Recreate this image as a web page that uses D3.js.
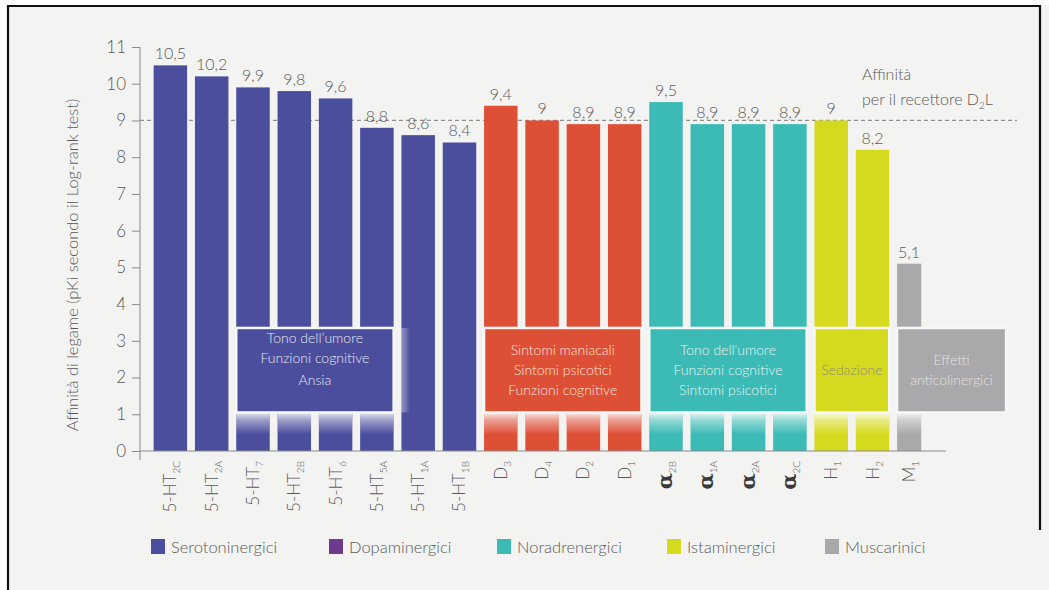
<!DOCTYPE html>
<html>
<head>
<meta charset="utf-8">
<script src="https://cdn.jsdelivr.net/npm/d3@7"></script>
<style>
  body { margin: 0; background: #ffffff; }
  svg text { font-family: Lato, "Open Sans", sans-serif; font-weight: 300; }
</style>
</head>
<body>
<svg id="chart" width="1049" height="590"></svg>
<script>
// Receptor binding affinities (pKi), one bar per receptor
const categories = ["5-HT2C","5-HT2A","5-HT7","5-HT2B","5-HT6","5-HT5A","5-HT1A","5-HT1B",
                    "D3","D4","D2","D1","α2B","α1A","α2A","α2C","H1","H2","M1"];
const labelMain = ["5-HT","5-HT","5-HT","5-HT","5-HT","5-HT","5-HT","5-HT",
                   "D","D","D","D","α","α","α","α","H","H","M"];
const labelSub  = ["2C","2A","7","2B","6","5A","1A","1B",
                   "3","4","2","1","2B","1A","2A","2C","1","2","1"];
const values = [10.5, 10.2, 9.9, 9.8, 9.6, 8.8, 8.6, 8.4,
                9.4, 9, 8.9, 8.9, 9.5, 8.9, 8.9, 8.9, 9, 8.2, 5.1];
const receptorFamily = ["sero","sero","sero","sero","sero","sero","sero","sero",
                        "dopa","dopa","dopa","dopa","nora","nora","nora","nora","ista","ista","musc"];

const families = ["sero","dopa","nora","ista","musc"];
const familyNames = ["Serotoninergici","Dopaminergici","Noradrenergici","Istaminergici","Muscarinici"];

// Clinical effects associated with each receptor block
const effectFrom  = ["5-HT7","D3","α2B","H1","M1"];
const effectTo    = ["5-HT5A","D1","α2C","H2","M1"];
const effectText  = [
  ["Tono dell\u2019umore","Funzioni cognitive","Ansia"],
  ["Sintomi maniacali","Sintomi psicotici","Funzioni cognitive"],
  ["Tono dell'umore","Funzioni cognitive","Sintomi psicotici"],
  ["Sedazione"],
  ["Effetti","anticolinergici"]
];
const effectFamily = ["sero","dopa","nora","ista","musc"];

const d2lAffinity = 9;
const yTicks = d3.range(0, 12);

// ---- styles ----
const barColor = { sero: "#4a4e9d", dopa: "#dd5036", nora: "#3cbab5", ista: "#d6da1e", musc: "#a9a8aa" };
const legendColor = { sero: "#4a4e9d", dopa: "#6e3a8e", nora: "#3cbab5", ista: "#d6da1e", musc: "#a9a8aa" };
const boxTextColor = { sero: "#e6e7f2", dopa: "#f6e2dc", nora: "#e4f5f4", ista: "#8d8d70", musc: "#e2e2e2" };
const textColor = "#5a5a5a";

const svg = d3.select("#chart");

// paper background and frame
svg.append("rect").attr("x", 7).attr("y", 5).attr("width", 1042).attr("height", 585).attr("fill", "#f3f3f1");
svg.append("path").attr("d", "M8,590 V6 H1040 V530").attr("fill", "none").attr("stroke", "#111").attr("stroke-width", 2.2);

const y = d3.scaleLinear().domain([0, 11]).range([451, 47]);
const x = d3.scaleBand().domain(categories).range([149.5, 934.7]).paddingInner(0.189).paddingOuter(0.1);

const barWidth = (i) => receptorFamily[i] === "musc" ? x.bandwidth() * 0.72 : x.bandwidth();

// gradients: fade under the effect boxes and side glow
const defs = svg.append("defs");
const fade = defs.append("linearGradient").attr("id", "fadeDown").attr("x1", 0).attr("y1", 0).attr("x2", 0).attr("y2", 1);
fade.append("stop").attr("offset", 0).attr("stop-color", "#fff").attr("stop-opacity", 0.88);
fade.append("stop").attr("offset", 0.35).attr("stop-color", "#fff").attr("stop-opacity", 0.45);
fade.append("stop").attr("offset", 1).attr("stop-color", "#fff").attr("stop-opacity", 0);
const glow = defs.append("linearGradient").attr("id", "glowRight").attr("x1", 0).attr("y1", 0).attr("x2", 1).attr("y2", 0);
glow.append("stop").attr("offset", 0).attr("stop-color", "#fff").attr("stop-opacity", 0.4);
glow.append("stop").attr("offset", 1).attr("stop-color", "#fff").attr("stop-opacity", 0);

// dashed reference line for D2L affinity
svg.append("line")
  .attr("x1", 140).attr("x2", 1017)
  .attr("y1", y(d2lAffinity)).attr("y2", y(d2lAffinity))
  .attr("stroke", "#8f8f8f").attr("stroke-width", 1.2).attr("stroke-dasharray", "4,3");

// bars
const bars = svg.append("g");
categories.forEach((c, i) => {
  bars.append("rect")
    .attr("x", x(c)).attr("y", y(values[i]))
    .attr("width", barWidth(i)).attr("height", y(0) - y(values[i]))
    .attr("fill", barColor[receptorFamily[i]]);
});

// value labels
svg.append("g").selectAll("text").data(categories).join("text")
  .attr("x", (c, i) => x(c) + barWidth(i) / 2)
  .attr("y", (c, i) => y(values[i]) - 6)
  .attr("text-anchor", "middle")
  .attr("font-size", 16)
  .attr("fill", textColor)
  .text((c, i) => String(values[i]).replace(".", ","));

// effect boxes
const boxTop = y(3.35), boxBottom = y(1.05);
const boxes = svg.append("g");
effectFrom.forEach((from, k) => {
  const i0 = categories.indexOf(from), i1 = categories.indexOf(effectTo[k]);
  const fam = effectFamily[k];
  const x0 = x(from);
  let x1 = x(effectTo[k]) + barWidth(i1);
  if (fam === "musc") x1 = x0 + 109;

  // fading strip below the box on each covered bar
  for (let i = i0; i <= i1; i++) {
    boxes.append("rect")
      .attr("x", x(categories[i])).attr("y", boxBottom)
      .attr("width", barWidth(i)).attr("height", 22)
      .attr("fill", "url(#fadeDown)");
  }
  if (fam === "sero") {
    const nx = x(categories[i1 + 1]);
    boxes.append("rect").attr("x", nx).attr("y", boxTop)
      .attr("width", 9).attr("height", boxBottom - boxTop)
      .attr("fill", "url(#glowRight)");
  }
  boxes.append("rect")
    .attr("x", x0).attr("y", boxTop)
    .attr("width", x1 - x0).attr("height", boxBottom - boxTop)
    .attr("fill", barColor[fam])
    .attr("stroke", "#f7f7f7").attr("stroke-width", 2.5);

  const lines = effectText[k];
  const cx = (x0 + x1) / 2;
  const lineGap = 20;
  const midY = (boxTop + boxBottom) / 2;
  const t = boxes.append("text")
    .attr("text-anchor", "middle")
    .attr("font-size", 14)
    .attr("fill", boxTextColor[fam]);
  lines.forEach((ln, j) => {
    let ty = midY + (j - (lines.length - 1) / 2) * lineGap + 5;
    if (fam === "sero") ty = boxTop + 15 + j * 20 + (j === 2 ? 2 : 0);
    t.append("tspan").attr("x", cx).attr("y", ty).text(ln);
  });
});

// y axis
const yAxis = svg.append("g")
  .attr("transform", "translate(140,0)")
  .call(d3.axisLeft(y).tickValues(yTicks).tickSize(8).tickSizeOuter(0).tickPadding(6));
yAxis.select(".domain").attr("stroke", "#8a8a8a").attr("d", `M0,${y(11)}V${y(0) + 9}`);
yAxis.selectAll(".tick line").attr("stroke", "#8a8a8a");
yAxis.selectAll(".tick text")
  .attr("font-size", 17).attr("fill", textColor)
  .style("font-family", "Lato, sans-serif").style("font-weight", 300);

// x baseline
svg.append("line").attr("x1", 140).attr("x2", 946).attr("y1", y(0)).attr("y2", y(0))
  .attr("stroke", "#8a8a8a").attr("stroke-width", 1);

// y axis title
svg.append("text")
  .attr("transform", `translate(78,${(y(0) + y(11)) / 2 + 16}) rotate(-90)`)
  .attr("text-anchor", "middle")
  .attr("font-size", 16.5)
  .attr("fill", textColor)
  .text("Affinità di legame (pKi secondo il Log-rank test)");

// rotated category labels with subscripts
const xl = svg.append("g");
categories.forEach((c, i) => {
  const cx = x(c) + barWidth(i) / 2 + 6;
  const t = xl.append("text")
    .attr("transform", `translate(${cx},461) rotate(-90)`)
    .attr("text-anchor", "end")
    .attr("font-size", 17)
    .attr("fill", textColor);
  const isGreek = labelMain[i] === "α";
  t.append("tspan").text(labelMain[i])
    .attr("fill", isGreek ? "#3a3a3a" : textColor)
    .attr("font-size", isGreek ? 21 : 17)
    .style("font-family", isGreek ? "'DejaVu Serif', serif" : null)
    .style("font-weight", isGreek ? 700 : 300);
  t.append("tspan").text(labelSub[i])
    .attr("font-size", 10).attr("dy", 4);
});

// D2L annotation
const ann = svg.append("text").attr("font-size", 16).attr("fill", textColor);
ann.append("tspan").attr("x", 862).attr("y", 80).text("Affinità");
const l2 = ann.append("tspan").attr("x", 862).attr("y", 105);
l2.append("tspan").text("per il recettore D");
l2.append("tspan").text("2").attr("font-size", 10).attr("dy", 4);
l2.append("tspan").text("L").attr("dy", -4);

// legend
const legendX = [151, 329, 497, 667, 825];
const legend = svg.append("g");
families.forEach((f, k) => {
  legend.append("rect").attr("x", legendX[k]).attr("y", 539)
    .attr("width", 14).attr("height", 15).attr("fill", legendColor[f]);
  legend.append("text").attr("x", legendX[k] + 20).attr("y", 553)
    .attr("font-size", 16.5).attr("fill", textColor).text(familyNames[k]);
});
</script>
</body>
</html>
